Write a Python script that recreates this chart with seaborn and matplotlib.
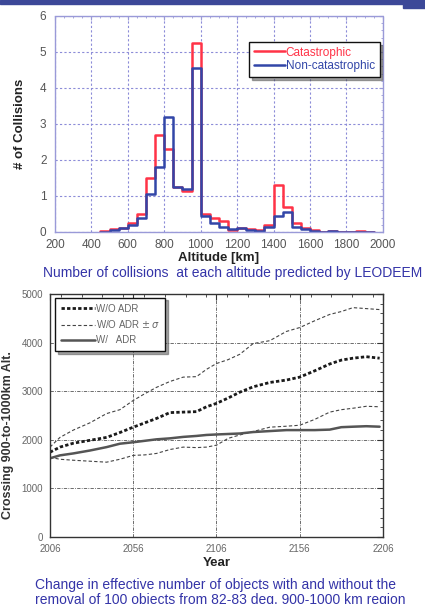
import numpy as np
import pandas as pd
import seaborn as sns
import matplotlib.pyplot as plt
from matplotlib.lines import Line2D
from matplotlib.patches import Rectangle
from matplotlib.ticker import MultipleLocator

# histograma de colisiones por altitud (bins de 50 km)
alt_edges = list(range(450, 1951, 50))
catastrophic = [0.02, 0.07, 0.12, 0.25, 0.5, 1.5, 2.7, 2.3, 1.25, 1.15, 5.25,
                0.5, 0.4, 0.3, 0.05, 0.1, 0.08, 0.05, 0.2, 1.3, 0.7, 0.25,
                0.1, 0.05, 0.0, 0.02, 0.0, 0.0, 0.03, 0.0]
non_catastrophic = [0.0, 0.05, 0.1, 0.2, 0.4, 1.05, 1.8, 3.2, 1.25, 1.2, 4.55,
                    0.45, 0.25, 0.15, 0.08, 0.12, 0.06, 0.03, 0.15, 0.45, 0.55, 0.15,
                    0.08, 0.03, 0.0, 0.03, 0.0, 0.0, 0.0, 0.0]

# objetos efectivos 900-1000 km
years = [2006, 2012, 2020, 2030, 2040, 2048, 2056, 2063, 2070, 2078, 2086, 2094, 2100,
         2106, 2113, 2120, 2128, 2138, 2148, 2156, 2165, 2174, 2181, 2188, 2196, 2204]
wo_adr = [1745, 1850, 1930, 1990, 2050, 2150, 2260, 2350, 2440, 2560, 2570, 2580, 2680,
          2750, 2860, 2980, 3090, 3180, 3230, 3290, 3420, 3560, 3640, 3680, 3710, 3680]
wo_adr_plus = [1850, 2050, 2200, 2350, 2540, 2620, 2810, 2950, 3080, 3200, 3290, 3300, 3450,
               3570, 3650, 3760, 3980, 4040, 4230, 4310, 4450, 4580, 4640, 4720, 4700, 4680]
wo_adr_minus = [1640, 1600, 1580, 1560, 1540, 1600, 1680, 1690, 1720, 1800, 1850, 1840, 1850,
                1890, 2030, 2100, 2170, 2260, 2280, 2300, 2420, 2570, 2620, 2650, 2690, 2680]
w_adr = [1620, 1680, 1720, 1780, 1850, 1920, 1950, 1980, 2010, 2030, 2060, 2080, 2100,
         2110, 2120, 2130, 2160, 2180, 2200, 2200, 2200, 2210, 2260, 2270, 2280, 2270]

RED = '#ff3347'
BLUE = '#3246a8'
CAP = '#3434a8'

sns.set_style('white')
plt.rcParams['font.family'] = ['Liberation Sans', 'DejaVu Sans']

fig = plt.figure(figsize=(4.25, 6.04), dpi=100)

# barra azul de la diapositiva
fig.patches.append(Rectangle((0, 1 - 4 / 604), 405 / 425, 4 / 604, transform=fig.transFigure,
                             color='#3c4898', zorder=0))
fig.patches.append(Rectangle((403 / 425, 1 - 8 / 604), 22 / 425, 8 / 604, transform=fig.transFigure,
                             color='#3c4898', zorder=0))

# ---------------- grafico superior ----------------
ax1 = fig.add_axes([0.129, 0.616, 0.772, 0.3576])
centers = [e + 25 for e in alt_edges[:-1]]
sns.histplot(x=centers, weights=catastrophic, bins=alt_edges, element='step', fill=False,
             color=RED, linewidth=1.8, ax=ax1)
sns.histplot(x=centers, weights=non_catastrophic, bins=alt_edges, element='step', fill=False,
             color=BLUE, linewidth=1.8, ax=ax1)
ax1.set_xlim(200, 2000)
ax1.set_ylim(0, 6)
ax1.xaxis.set_major_locator(MultipleLocator(200))
ax1.xaxis.set_minor_locator(MultipleLocator(50))
ax1.yaxis.set_major_locator(MultipleLocator(1))
ax1.yaxis.set_minor_locator(MultipleLocator(0.2))
ax1.grid(True, which='major', color='#8c8cd8', linestyle=(0, (2, 2)), linewidth=0.8)
for s in ax1.spines.values():
    s.set_color('#9a9ad8')
    s.set_linestyle((0, (2, 1)))
    s.set_linewidth(1.0)
ax1.tick_params(which='both', direction='in', colors='#9a9ad8', top=True, right=True,
                labelcolor='#555555', labelsize=8.5)
ax1.tick_params(axis='x', pad=5)
ax1.tick_params(axis='y', pad=6)
ax1.tick_params(which='major', length=3)
ax1.tick_params(which='minor', length=1.5)
ax1.set_xlabel('Altitude [km]', fontsize=9.5, fontweight='bold', color='#222222', labelpad=1)
ax1.set_ylabel('# of Collisions', fontsize=9.5, fontweight='bold', color='#222222', labelpad=10)
h1 = [Line2D([], [], color=RED, lw=1.8), Line2D([], [], color=BLUE, lw=1.8)]
leg1 = ax1.legend(h1, ['Catastrophic', 'Non-catastrophic'], loc='upper right',
                  bbox_to_anchor=(0.99, 0.88), fontsize=8.5, frameon=True, fancybox=False,
                  shadow=True, handlelength=2.6, handletextpad=0.1, borderpad=0.4,
                  labelspacing=0.15, borderaxespad=0)
leg1.get_frame().set_edgecolor('#111111')
leg1.get_frame().set_linewidth(1.0)
for t, c in zip(leg1.get_texts(), [RED, BLUE]):
    t.set_color(c)

fig.text(43 / 425, 1 - 273 / 604, 'Number of collisions  at each altitude predicted by LEODEEM',
         ha='left', va='center', fontsize=10, color=CAP)

# ---------------- grafico inferior ----------------
ax2 = fig.add_axes([0.1176, 0.1109, 0.7835, 0.4023])
df = pd.DataFrame({'year': years, 'wo': wo_adr, 'plus': wo_adr_plus,
                   'minus': wo_adr_minus, 'w': w_adr})
sns.lineplot(data=df, x='year', y='plus', color='#444444', lw=0.8, linestyle=(0, (3, 2)), ax=ax2)
sns.lineplot(data=df, x='year', y='minus', color='#444444', lw=0.8, linestyle=(0, (3, 2)), ax=ax2)
sns.lineplot(data=df, x='year', y='w', color='#555555', lw=1.8, ax=ax2)
sns.lineplot(data=df, x='year', y='wo', color='#1a1a1a', lw=2.0, linestyle=(0, (1.2, 0.8)), ax=ax2)
ax2.set_xlim(2006, 2206)
ax2.set_ylim(0, 5000)
ax2.set_xticks([2006, 2056, 2106, 2156, 2206])
ax2.xaxis.set_minor_locator(MultipleLocator(12.5))
ax2.yaxis.set_major_locator(MultipleLocator(1000))
ax2.yaxis.set_minor_locator(MultipleLocator(200))
ax2.grid(True, which='major', color='#555555', linestyle=(0, (4, 1.5, 1, 1.5)), linewidth=0.6)
for s in ax2.spines.values():
    s.set_color('#333333')
    s.set_linewidth(1.0)
ax2.tick_params(which='both', direction='in', colors='#333333', top=True, right=True,
                labelcolor='#666666', labelsize=7, pad=5)
ax2.tick_params(which='major', length=4)
ax2.tick_params(which='minor', length=2)
ax2.set_xlabel('Year', fontsize=9.5, fontweight='bold', color='#222222', labelpad=2)
ax2.set_ylabel('')
fig.text(8 / 425, 1 - 435 / 604, 'Crossing 900-to-1000km Alt.', rotation=90, ha='center',
         va='center', fontsize=9, fontweight='bold', color='#333333')
h2 = [Line2D([], [], color='#1a1a1a', lw=2.0, linestyle=(0, (1.2, 0.8))),
      Line2D([], [], color='#444444', lw=0.8, linestyle=(0, (3, 2))),
      Line2D([], [], color='#555555', lw=1.8)]
leg2 = ax2.legend(h2, ['W/O ADR', 'W/O ADR $\\pm\\,\\sigma$', 'W/   ADR'], loc='upper left',
                  bbox_to_anchor=(0.015, 0.985), fontsize=7, frameon=True, fancybox=False,
                  shadow=True, handlelength=3.5, handletextpad=0.1, borderpad=0.6,
                  labelspacing=0.5, borderaxespad=0)
leg2.get_frame().set_edgecolor('#111111')
leg2.get_frame().set_linewidth(1.0)
for t in leg2.get_texts():
    t.set_color('#666666')

fig.text(35 / 425, 1 - 585 / 604, 'Change in effective number of objects with and without the',
         ha='left', va='center', fontsize=10, color=CAP)
fig.text(35 / 425, 1 - 600 / 604, 'removal of 100 objects from 82-83 deg. 900-1000 km region',
         ha='left', va='center', fontsize=10, color=CAP)

fig.savefig('out.png', dpi=100)
